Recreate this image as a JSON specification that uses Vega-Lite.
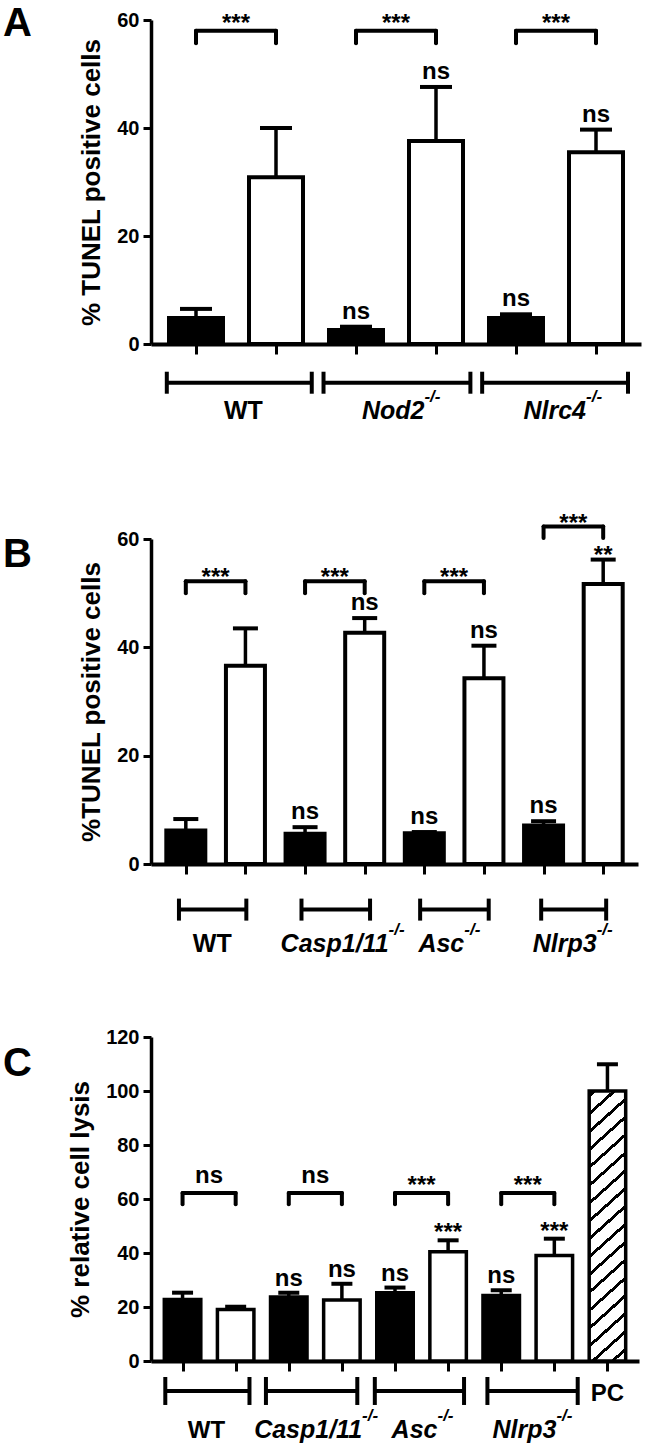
{
  "$schema": "https://vega.github.io/schema/vega-lite/v6.json",
  "autosize": {"type": "pad"},
  "padding": {"left": 3, "top": 4, "right": 4, "bottom": 2},
  "background": "white",
  "config": {
    "view": {"stroke": null},
    "font": "Liberation Sans",
    "axis": {"domainColor": "black", "tickColor": "black", "labelColor": "black", "titleColor": "black", "labelFont": "Liberation Sans", "titleFont": "Liberation Sans", "labelFontWeight": "bold", "titleFontWeight": "bold", "labelFontSize": 20, "titleFontSize": 26, "grid": false, "tickWidth": 3},
    "text": {"font": "Liberation Sans", "fontWeight": "bold", "color": "black"},
    "rule": {"color": "black"},
    "tick": {"color": "black", "opacity": 1}
  },
  "datasets": {
    "barsA": [
      {"pos": 1, "geno": "WT", "treat": "ctrl", "mean": 4.8, "err": 6.5, "sig": ""},
      {"pos": 2, "geno": "WT", "treat": "inf", "mean": 30.9, "err": 40.0, "sig": ""},
      {"pos": 3, "geno": "Nod2", "treat": "ctrl", "mean": 2.6, "err": 3.2, "sig": "ns"},
      {"pos": 4, "geno": "Nod2", "treat": "inf", "mean": 37.6, "err": 47.6, "sig": "ns"},
      {"pos": 5, "geno": "Nlrc4", "treat": "ctrl", "mean": 4.8, "err": 5.5, "sig": "ns"},
      {"pos": 6, "geno": "Nlrc4", "treat": "inf", "mean": 35.5, "err": 39.7, "sig": "ns"}
    ],
    "pairsA": [
      {"x1": 1, "x2": 2, "xm": 1.5, "y": 58, "ylow": 55.7, "label": "***"},
      {"x1": 3, "x2": 4, "xm": 3.5, "y": 58, "ylow": 55.7, "label": "***"},
      {"x1": 5, "x2": 6, "xm": 5.5, "y": 58, "ylow": 55.7, "label": "***"}
    ],
    "groupsA": [
      {"x1": 0.635, "x2": 2.447, "lx": 1.835, "label": "WT", "sup": ""},
      {"x1": 2.594, "x2": 4.43, "lx": 3.855, "label": "Nod2", "sup": "-/-"},
      {"x1": 4.577, "x2": 6.4, "lx": 5.875, "label": "Nlrc4", "sup": "-/-"}
    ],
    "barsB": [
      {"pos": 1, "geno": "WT", "treat": "ctrl", "mean": 6.2, "err": 8.3, "sig": ""},
      {"pos": 2, "geno": "WT", "treat": "inf", "mean": 36.6, "err": 43.5, "sig": ""},
      {"pos": 3, "geno": "Casp1/11", "treat": "ctrl", "mean": 5.6, "err": 6.8, "sig": "ns"},
      {"pos": 4, "geno": "Casp1/11", "treat": "inf", "mean": 42.7, "err": 45.4, "sig": "ns"},
      {"pos": 5, "geno": "Asc", "treat": "ctrl", "mean": 5.7, "err": 5.9, "sig": "ns"},
      {"pos": 6, "geno": "Asc", "treat": "inf", "mean": 34.3, "err": 40.3, "sig": "ns"},
      {"pos": 7, "geno": "Nlrp3", "treat": "ctrl", "mean": 7.1, "err": 7.9, "sig": "ns"},
      {"pos": 8, "geno": "Nlrp3", "treat": "inf", "mean": 51.7, "err": 56.2, "sig": "**"}
    ],
    "pairsB": [
      {"x1": 1, "x2": 2, "xm": 1.5, "y": 52.2, "ylow": 50.0, "label": "***"},
      {"x1": 3, "x2": 4, "xm": 3.5, "y": 52.2, "ylow": 50.0, "label": "***"},
      {"x1": 5, "x2": 6, "xm": 5.5, "y": 52.2, "ylow": 50.0, "label": "***"},
      {"x1": 7, "x2": 8, "xm": 7.5, "y": 62.3, "ylow": 60.2, "label": "***"}
    ],
    "groupsB": [
      {"x1": 0.885, "x2": 2.015, "lx": 1.77, "label": "WT", "sup": ""},
      {"x1": 2.94, "x2": 4.09, "lx": 4.4, "label": "Casp1/11", "sup": "-/-"},
      {"x1": 4.93, "x2": 6.08, "lx": 5.67, "label": "Asc", "sup": "-/-"},
      {"x1": 6.96, "x2": 8.05, "lx": 7.89, "label": "Nlrp3", "sup": "-/-"}
    ],
    "barsC": [
      {"pos": 1, "geno": "WT", "treat": "ctrl", "mean": 22.8, "err": 25.3, "sig": ""},
      {"pos": 2, "geno": "WT", "treat": "inf", "mean": 19.1, "err": 20.1, "sig": ""},
      {"pos": 3, "geno": "Casp1/11", "treat": "ctrl", "mean": 23.7, "err": 25.3, "sig": "ns"},
      {"pos": 4, "geno": "Casp1/11", "treat": "inf", "mean": 22.6, "err": 28.6, "sig": "ns"},
      {"pos": 5, "geno": "Asc", "treat": "ctrl", "mean": 25.3, "err": 27.2, "sig": "ns"},
      {"pos": 6, "geno": "Asc", "treat": "inf", "mean": 40.5, "err": 44.7, "sig": "***"},
      {"pos": 7, "geno": "Nlrp3", "treat": "ctrl", "mean": 24.3, "err": 26.2, "sig": "ns"},
      {"pos": 8, "geno": "Nlrp3", "treat": "inf", "mean": 39.1, "err": 45.3, "sig": "***"},
      {"pos": 9, "geno": "PC", "treat": "pc", "mean": 100, "err": 109.9, "sig": ""}
    ],
    "pairsC": [
      {"x1": 1, "x2": 2, "xm": 1.5, "y": 62.2, "ylow": 58.1, "label": "ns"},
      {"x1": 3, "x2": 4, "xm": 3.5, "y": 62.2, "ylow": 58.1, "label": "ns"},
      {"x1": 5, "x2": 6, "xm": 5.5, "y": 62.2, "ylow": 58.1, "label": "***"},
      {"x1": 7, "x2": 8, "xm": 7.5, "y": 62.2, "ylow": 58.1, "label": "***"}
    ],
    "groupsC": [
      {"x1": 0.675, "x2": 2.26, "lx": 1.8, "label": "WT", "sup": ""},
      {"x1": 2.57, "x2": 4.29, "lx": 4.38, "label": "Casp1/11", "sup": "-/-"},
      {"x1": 4.62, "x2": 6.3, "lx": 5.8, "label": "Asc", "sup": "-/-"},
      {"x1": 6.74, "x2": 8.44, "lx": 8.04, "label": "Nlrp3", "sup": "-/-"}
    ],
    "pcC": [
      {"lx": 9, "label": "PC"}
    ]
  },
  "bounds": "flush",
  "spacing": 195,
  "vconcat": [
    {
      "width": 490,
      "height": 324,
      "title": {"text": "A", "anchor": "start", "frame": "group", "orient": "top", "offset": 0, "dx": -148, "dy": 66, "fontSize": 40, "fontWeight": "bold", "font": "Liberation Sans", "baseline": "alphabetic", "color": "black"},
      "layer": [
        {"data": {"name": "barsA"}, "mark": {"type": "bar", "orient": "vertical", "size": 54, "stroke": "black", "strokeWidth": 4},
         "encoding": {
           "x": {"field": "pos", "type": "quantitative", "scale": {"domain": [0.5, 6.5], "nice": false, "zero": false}, "axis": {"values": [1, 2, 3, 4, 5, 6], "labels": false, "ticks": true, "tickSize": 10, "tickWidth": 3, "domainWidth": 4, "title": null}},
           "y": {"field": "mean", "type": "quantitative", "scale": {"domain": [0, 60], "nice": false}, "axis": {"values": [0, 20, 40, 60], "title": "% TUNEL positive cells", "tickSize": 8, "tickWidth": 3, "domainWidth": 3.5, "labelPadding": 4, "titlePadding": 12}},
           "fill": {"field": "treat", "type": "nominal", "scale": {"domain": ["ctrl", "inf"], "range": ["black", "white"]}, "legend": null}}},
        {"data": {"name": "barsA"}, "mark": {"type": "rule", "strokeWidth": 3.5},
         "encoding": {"x": {"field": "pos", "type": "quantitative", "scale": {"domain": [0.5, 6.5], "nice": false, "zero": false}}, "y": {"field": "mean", "type": "quantitative", "scale": {"domain": [0, 60], "nice": false}}, "y2": {"field": "err"}}},
        {"data": {"name": "barsA"}, "mark": {"type": "tick", "orient": "horizontal", "size": 32, "thickness": 4, "opacity": 1},
         "encoding": {"x": {"field": "pos", "type": "quantitative", "scale": {"domain": [0.5, 6.5], "nice": false, "zero": false}}, "y": {"field": "err", "type": "quantitative", "scale": {"domain": [0, 60], "nice": false}}}},
        {"data": {"name": "barsA"}, "transform": [{"filter": "datum.sig === 'ns'"}], "mark": {"type": "text", "fontSize": 24, "baseline": "alphabetic", "dy": -8},
         "encoding": {"x": {"field": "pos", "type": "quantitative", "scale": {"domain": [0.5, 6.5], "nice": false, "zero": false}}, "y": {"field": "err", "type": "quantitative", "scale": {"domain": [0, 60], "nice": false}}, "text": {"field": "sig"}}},
        {"data": {"name": "pairsA"}, "mark": {"type": "rule", "strokeWidth": 4, "strokeCap": "round"},
         "encoding": {"x": {"field": "x1", "type": "quantitative", "scale": {"domain": [0.5, 6.5], "nice": false, "zero": false}}, "x2": {"field": "x2"}, "y": {"field": "y", "type": "quantitative", "scale": {"domain": [0, 60], "nice": false}}}},
        {"data": {"name": "pairsA"}, "transform": [{"fold": ["x1", "x2"], "as": ["side", "xv"]}], "mark": {"type": "rule", "strokeWidth": 4, "strokeCap": "round"},
         "encoding": {"x": {"field": "xv", "type": "quantitative", "scale": {"domain": [0.5, 6.5], "nice": false, "zero": false}}, "y": {"field": "ylow", "type": "quantitative", "scale": {"domain": [0, 60], "nice": false}}, "y2": {"field": "y"}}},
        {"data": {"name": "pairsA"}, "mark": {"type": "text", "fontSize": 24, "baseline": "alphabetic", "dy": 0},
         "encoding": {"x": {"field": "xm", "type": "quantitative", "scale": {"domain": [0.5, 6.5], "nice": false, "zero": false}}, "y": {"field": "y", "type": "quantitative", "scale": {"domain": [0, 60], "nice": false}}, "text": {"field": "label"}}},
        {"data": {"name": "groupsA"}, "mark": {"type": "rule", "strokeWidth": 4},
         "encoding": {"x": {"field": "x1", "type": "quantitative", "scale": {"domain": [0.5, 6.5], "nice": false, "zero": false}}, "x2": {"field": "x2"}, "y": {"datum": -7.17, "type": "quantitative", "scale": {"domain": [0, 60], "nice": false}}}},
        {"data": {"name": "groupsA"}, "transform": [{"fold": ["x1", "x2"], "as": ["side", "xv"]}], "mark": {"type": "tick", "orient": "vertical", "size": 22, "thickness": 4, "opacity": 1},
         "encoding": {"x": {"field": "xv", "type": "quantitative", "scale": {"domain": [0.5, 6.5], "nice": false, "zero": false}}, "y": {"datum": -7.17, "type": "quantitative", "scale": {"domain": [0, 60], "nice": false}}}},
        {"data": {"name": "groupsA"}, "transform": [{"filter": "datum.sup === ''"}], "mark": {"type": "text", "fontSize": 25, "align": "right", "baseline": "alphabetic"},
         "encoding": {"x": {"field": "lx", "type": "quantitative", "scale": {"domain": [0.5, 6.5], "nice": false, "zero": false}}, "y": {"datum": -13.94, "type": "quantitative", "scale": {"domain": [0, 60], "nice": false}}, "text": {"field": "label"}}},
        {"data": {"name": "groupsA"}, "transform": [{"filter": "datum.sup !== ''"}], "mark": {"type": "text", "fontSize": 25, "fontStyle": "italic", "align": "right", "baseline": "alphabetic"},
         "encoding": {"x": {"field": "lx", "type": "quantitative", "scale": {"domain": [0.5, 6.5], "nice": false, "zero": false}}, "y": {"datum": -13.94, "type": "quantitative", "scale": {"domain": [0, 60], "nice": false}}, "text": {"field": "label"}}},
        {"data": {"name": "groupsA"}, "transform": [{"filter": "datum.sup !== ''"}], "mark": {"type": "text", "fontSize": 17, "fontStyle": "italic", "align": "left", "baseline": "alphabetic", "dy": -17},
         "encoding": {"x": {"field": "lx", "type": "quantitative", "scale": {"domain": [0.5, 6.5], "nice": false, "zero": false}}, "y": {"datum": -13.94, "type": "quantitative", "scale": {"domain": [0, 60], "nice": false}}, "text": {"field": "sup"}}}
      ]
    },
    {
      "bounds": "flush",
      "spacing": 173,
      "vconcat": [
        {
          "width": 487,
          "height": 325,
          "title": {"text": "B", "anchor": "start", "frame": "group", "orient": "top", "offset": 0, "dx": -148, "dy": 95, "fontSize": 40, "fontWeight": "bold", "font": "Liberation Sans", "baseline": "alphabetic", "color": "black"},
          "layer": [
            {"data": {"name": "barsB"}, "mark": {"type": "bar", "orient": "vertical", "size": 39, "stroke": "black", "strokeWidth": 4},
             "encoding": {
               "x": {"field": "pos", "type": "quantitative", "scale": {"domain": [0.5, 8.5], "nice": false, "zero": false}, "axis": {"values": [1, 2, 3, 4, 5, 6, 7, 8], "labels": false, "ticks": true, "tickSize": 10, "tickWidth": 3, "domainWidth": 4, "title": null}},
               "y": {"field": "mean", "type": "quantitative", "scale": {"domain": [0, 60], "nice": false}, "axis": {"values": [0, 20, 40, 60], "title": "%TUNEL positive cells", "tickSize": 8, "tickWidth": 3, "domainWidth": 3.5, "labelPadding": 4, "titlePadding": 12}},
               "fill": {"field": "treat", "type": "nominal", "scale": {"domain": ["ctrl", "inf"], "range": ["black", "white"]}, "legend": null}}},
            {"data": {"name": "barsB"}, "mark": {"type": "rule", "strokeWidth": 3.5},
             "encoding": {"x": {"field": "pos", "type": "quantitative", "scale": {"domain": [0.5, 8.5], "nice": false, "zero": false}}, "y": {"field": "mean", "type": "quantitative", "scale": {"domain": [0, 60], "nice": false}}, "y2": {"field": "err"}}},
            {"data": {"name": "barsB"}, "mark": {"type": "tick", "orient": "horizontal", "size": 25, "thickness": 4, "opacity": 1},
             "encoding": {"x": {"field": "pos", "type": "quantitative", "scale": {"domain": [0.5, 8.5], "nice": false, "zero": false}}, "y": {"field": "err", "type": "quantitative", "scale": {"domain": [0, 60], "nice": false}}}},
            {"data": {"name": "barsB"}, "transform": [{"filter": "datum.sig === 'ns'"}], "mark": {"type": "text", "fontSize": 24, "baseline": "alphabetic", "dy": -8},
             "encoding": {"x": {"field": "pos", "type": "quantitative", "scale": {"domain": [0.5, 8.5], "nice": false, "zero": false}}, "y": {"field": "err", "type": "quantitative", "scale": {"domain": [0, 60], "nice": false}}, "text": {"field": "sig"}}},
            {"data": {"name": "barsB"}, "transform": [{"filter": "datum.sig !== 'ns' && datum.sig !== ''"}], "mark": {"type": "text", "fontSize": 24, "baseline": "alphabetic", "dy": 3},
             "encoding": {"x": {"field": "pos", "type": "quantitative", "scale": {"domain": [0.5, 8.5], "nice": false, "zero": false}}, "y": {"field": "err", "type": "quantitative", "scale": {"domain": [0, 60], "nice": false}}, "text": {"field": "sig"}}},
            {"data": {"name": "pairsB"}, "mark": {"type": "rule", "strokeWidth": 4, "strokeCap": "round"},
             "encoding": {"x": {"field": "x1", "type": "quantitative", "scale": {"domain": [0.5, 8.5], "nice": false, "zero": false}}, "x2": {"field": "x2"}, "y": {"field": "y", "type": "quantitative", "scale": {"domain": [0, 60], "nice": false}}}},
            {"data": {"name": "pairsB"}, "transform": [{"fold": ["x1", "x2"], "as": ["side", "xv"]}], "mark": {"type": "rule", "strokeWidth": 4, "strokeCap": "round"},
             "encoding": {"x": {"field": "xv", "type": "quantitative", "scale": {"domain": [0.5, 8.5], "nice": false, "zero": false}}, "y": {"field": "ylow", "type": "quantitative", "scale": {"domain": [0, 60], "nice": false}}, "y2": {"field": "y"}}},
            {"data": {"name": "pairsB"}, "mark": {"type": "text", "fontSize": 24, "baseline": "alphabetic", "dy": 4},
             "encoding": {"x": {"field": "xm", "type": "quantitative", "scale": {"domain": [0.5, 8.5], "nice": false, "zero": false}}, "y": {"field": "y", "type": "quantitative", "scale": {"domain": [0, 60], "nice": false}}, "text": {"field": "label"}}},
            {"data": {"name": "groupsB"}, "mark": {"type": "rule", "strokeWidth": 4},
             "encoding": {"x": {"field": "x1", "type": "quantitative", "scale": {"domain": [0.5, 8.5], "nice": false, "zero": false}}, "x2": {"field": "x2"}, "y": {"datum": -8.42, "type": "quantitative", "scale": {"domain": [0, 60], "nice": false}}}},
            {"data": {"name": "groupsB"}, "transform": [{"fold": ["x1", "x2"], "as": ["side", "xv"]}], "mark": {"type": "tick", "orient": "vertical", "size": 22, "thickness": 4, "opacity": 1},
             "encoding": {"x": {"field": "xv", "type": "quantitative", "scale": {"domain": [0.5, 8.5], "nice": false, "zero": false}}, "y": {"datum": -8.42, "type": "quantitative", "scale": {"domain": [0, 60], "nice": false}}}},
            {"data": {"name": "groupsB"}, "transform": [{"filter": "datum.sup === ''"}], "mark": {"type": "text", "fontSize": 25, "align": "right", "baseline": "alphabetic"},
             "encoding": {"x": {"field": "lx", "type": "quantitative", "scale": {"domain": [0.5, 8.5], "nice": false, "zero": false}}, "y": {"datum": -16.3, "type": "quantitative", "scale": {"domain": [0, 60], "nice": false}}, "text": {"field": "label"}}},
            {"data": {"name": "groupsB"}, "transform": [{"filter": "datum.sup !== ''"}], "mark": {"type": "text", "fontSize": 25, "fontStyle": "italic", "align": "right", "baseline": "alphabetic"},
             "encoding": {"x": {"field": "lx", "type": "quantitative", "scale": {"domain": [0.5, 8.5], "nice": false, "zero": false}}, "y": {"datum": -16.3, "type": "quantitative", "scale": {"domain": [0, 60], "nice": false}}, "text": {"field": "label"}}},
            {"data": {"name": "groupsB"}, "transform": [{"filter": "datum.sup !== ''"}], "mark": {"type": "text", "fontSize": 17, "fontStyle": "italic", "align": "left", "baseline": "alphabetic", "dy": -17},
             "encoding": {"x": {"field": "lx", "type": "quantitative", "scale": {"domain": [0.5, 8.5], "nice": false, "zero": false}}, "y": {"datum": -16.3, "type": "quantitative", "scale": {"domain": [0, 60], "nice": false}}, "text": {"field": "sup"}}}
          ]
        },
        {
          "width": 488,
          "height": 324,
          "title": {"text": "C", "anchor": "start", "frame": "group", "orient": "top", "offset": 0, "dx": -148, "dy": 89, "fontSize": 40, "fontWeight": "bold", "font": "Liberation Sans", "baseline": "alphabetic", "color": "black"},
          "layer": [
            {"data": {"name": "barsC"}, "transform": [{"filter": "datum.treat !== 'pc'"}], "mark": {"type": "bar", "orient": "vertical", "size": 36.5, "stroke": "black", "strokeWidth": 3.5},
             "encoding": {
               "x": {"field": "pos", "type": "quantitative", "scale": {"domain": [0.5, 9.5], "nice": false, "zero": false}, "axis": {"values": [1, 2, 3, 4, 5, 6, 7, 8, 9], "labels": false, "ticks": true, "tickSize": 10, "tickWidth": 3, "domainWidth": 4, "title": null}},
               "y": {"field": "mean", "type": "quantitative", "scale": {"domain": [0, 120], "nice": false}, "axis": {"values": [0, 20, 40, 60, 80, 100, 120], "title": "% relative cell lysis", "tickSize": 8, "tickWidth": 3, "domainWidth": 3.5, "labelPadding": 4, "titlePadding": 12}},
               "fill": {"field": "treat", "type": "nominal", "scale": {"domain": ["ctrl", "inf"], "range": ["black", "white"]}, "legend": null}}},
            {"data": {"name": "barsC"}, "transform": [{"filter": "datum.treat === 'pc'"}],
             "mark": {"type": "bar", "orient": "vertical", "size": 36.5, "stroke": "black", "strokeWidth": 3.5,
               "fill": {"gradient": "linear", "x1": 0, "y1": 0, "x2": 0.134, "y2": 1.1, "stops": [
                 {"offset": 0, "color": "white"},
                 {"offset": 0.010, "color": "white"}, {"offset": 0.010, "color": "black"}, {"offset": 0.023, "color": "black"}, {"offset": 0.023, "color": "white"},
                 {"offset": 0.069, "color": "white"}, {"offset": 0.069, "color": "black"}, {"offset": 0.082, "color": "black"}, {"offset": 0.082, "color": "white"},
                 {"offset": 0.129, "color": "white"}, {"offset": 0.129, "color": "black"}, {"offset": 0.142, "color": "black"}, {"offset": 0.142, "color": "white"},
                 {"offset": 0.188, "color": "white"}, {"offset": 0.188, "color": "black"}, {"offset": 0.201, "color": "black"}, {"offset": 0.201, "color": "white"},
                 {"offset": 0.247, "color": "white"}, {"offset": 0.247, "color": "black"}, {"offset": 0.260, "color": "black"}, {"offset": 0.260, "color": "white"},
                 {"offset": 0.307, "color": "white"}, {"offset": 0.307, "color": "black"}, {"offset": 0.320, "color": "black"}, {"offset": 0.320, "color": "white"},
                 {"offset": 0.366, "color": "white"}, {"offset": 0.366, "color": "black"}, {"offset": 0.379, "color": "black"}, {"offset": 0.379, "color": "white"},
                 {"offset": 0.425, "color": "white"}, {"offset": 0.425, "color": "black"}, {"offset": 0.438, "color": "black"}, {"offset": 0.438, "color": "white"},
                 {"offset": 0.484, "color": "white"}, {"offset": 0.484, "color": "black"}, {"offset": 0.497, "color": "black"}, {"offset": 0.497, "color": "white"},
                 {"offset": 0.544, "color": "white"}, {"offset": 0.544, "color": "black"}, {"offset": 0.557, "color": "black"}, {"offset": 0.557, "color": "white"},
                 {"offset": 0.603, "color": "white"}, {"offset": 0.603, "color": "black"}, {"offset": 0.616, "color": "black"}, {"offset": 0.616, "color": "white"},
                 {"offset": 0.662, "color": "white"}, {"offset": 0.662, "color": "black"}, {"offset": 0.675, "color": "black"}, {"offset": 0.675, "color": "white"},
                 {"offset": 0.722, "color": "white"}, {"offset": 0.722, "color": "black"}, {"offset": 0.735, "color": "black"}, {"offset": 0.735, "color": "white"},
                 {"offset": 0.781, "color": "white"}, {"offset": 0.781, "color": "black"}, {"offset": 0.794, "color": "black"}, {"offset": 0.794, "color": "white"},
                 {"offset": 0.840, "color": "white"}, {"offset": 0.840, "color": "black"}, {"offset": 0.853, "color": "black"}, {"offset": 0.853, "color": "white"},
                 {"offset": 0.900, "color": "white"}, {"offset": 0.900, "color": "black"}, {"offset": 0.913, "color": "black"}, {"offset": 0.913, "color": "white"},
                 {"offset": 0.959, "color": "white"}, {"offset": 0.959, "color": "black"}, {"offset": 0.972, "color": "black"}, {"offset": 0.972, "color": "white"},
                 {"offset": 1, "color": "white"}
               ]}},
             "encoding": {"x": {"field": "pos", "type": "quantitative", "scale": {"domain": [0.5, 9.5], "nice": false, "zero": false}}, "y": {"field": "mean", "type": "quantitative", "scale": {"domain": [0, 120], "nice": false}}}},
            {"data": {"name": "barsC"}, "mark": {"type": "rule", "strokeWidth": 3.5},
             "encoding": {"x": {"field": "pos", "type": "quantitative", "scale": {"domain": [0.5, 9.5], "nice": false, "zero": false}}, "y": {"field": "mean", "type": "quantitative", "scale": {"domain": [0, 120], "nice": false}}, "y2": {"field": "err"}}},
            {"data": {"name": "barsC"}, "mark": {"type": "tick", "orient": "horizontal", "size": 21, "thickness": 4, "opacity": 1},
             "encoding": {"x": {"field": "pos", "type": "quantitative", "scale": {"domain": [0.5, 9.5], "nice": false, "zero": false}}, "y": {"field": "err", "type": "quantitative", "scale": {"domain": [0, 120], "nice": false}}}},
            {"data": {"name": "barsC"}, "transform": [{"filter": "datum.sig === 'ns'"}], "mark": {"type": "text", "fontSize": 24, "baseline": "alphabetic", "dy": -7},
             "encoding": {"x": {"field": "pos", "type": "quantitative", "scale": {"domain": [0.5, 9.5], "nice": false, "zero": false}}, "y": {"field": "err", "type": "quantitative", "scale": {"domain": [0, 120], "nice": false}}, "text": {"field": "sig"}}},
            {"data": {"name": "barsC"}, "transform": [{"filter": "datum.sig !== 'ns' && datum.sig !== ''"}], "mark": {"type": "text", "fontSize": 24, "baseline": "alphabetic", "dy": 0},
             "encoding": {"x": {"field": "pos", "type": "quantitative", "scale": {"domain": [0.5, 9.5], "nice": false, "zero": false}}, "y": {"field": "err", "type": "quantitative", "scale": {"domain": [0, 120], "nice": false}}, "text": {"field": "sig"}}},
            {"data": {"name": "pairsC"}, "mark": {"type": "rule", "strokeWidth": 4, "strokeCap": "round"},
             "encoding": {"x": {"field": "x1", "type": "quantitative", "scale": {"domain": [0.5, 9.5], "nice": false, "zero": false}}, "x2": {"field": "x2"}, "y": {"field": "y", "type": "quantitative", "scale": {"domain": [0, 120], "nice": false}}}},
            {"data": {"name": "pairsC"}, "transform": [{"fold": ["x1", "x2"], "as": ["side", "xv"]}], "mark": {"type": "rule", "strokeWidth": 4, "strokeCap": "round"},
             "encoding": {"x": {"field": "xv", "type": "quantitative", "scale": {"domain": [0.5, 9.5], "nice": false, "zero": false}}, "y": {"field": "ylow", "type": "quantitative", "scale": {"domain": [0, 120], "nice": false}}, "y2": {"field": "y"}}},
            {"data": {"name": "pairsC"}, "transform": [{"filter": "datum.label === 'ns'"}], "mark": {"type": "text", "fontSize": 24, "baseline": "alphabetic", "dy": -10},
             "encoding": {"x": {"field": "xm", "type": "quantitative", "scale": {"domain": [0.5, 9.5], "nice": false, "zero": false}}, "y": {"field": "y", "type": "quantitative", "scale": {"domain": [0, 120], "nice": false}}, "text": {"field": "label"}}},
            {"data": {"name": "pairsC"}, "transform": [{"filter": "datum.label !== 'ns'"}], "mark": {"type": "text", "fontSize": 24, "baseline": "alphabetic", "dy": 0},
             "encoding": {"x": {"field": "xm", "type": "quantitative", "scale": {"domain": [0.5, 9.5], "nice": false, "zero": false}}, "y": {"field": "y", "type": "quantitative", "scale": {"domain": [0, 120], "nice": false}}, "text": {"field": "label"}}},
            {"data": {"name": "groupsC"}, "mark": {"type": "rule", "strokeWidth": 4},
             "encoding": {"x": {"field": "x1", "type": "quantitative", "scale": {"domain": [0.5, 9.5], "nice": false, "zero": false}}, "x2": {"field": "x2"}, "y": {"datum": -11.1, "type": "quantitative", "scale": {"domain": [0, 120], "nice": false}}}},
            {"data": {"name": "groupsC"}, "transform": [{"fold": ["x1", "x2"], "as": ["side", "xv"]}], "mark": {"type": "tick", "orient": "vertical", "size": 28, "thickness": 4, "opacity": 1},
             "encoding": {"x": {"field": "xv", "type": "quantitative", "scale": {"domain": [0.5, 9.5], "nice": false, "zero": false}}, "y": {"datum": -11.1, "type": "quantitative", "scale": {"domain": [0, 120], "nice": false}}}},
            {"data": {"name": "pcC"}, "mark": {"type": "text", "fontSize": 24, "align": "center", "baseline": "alphabetic"},
             "encoding": {"x": {"field": "lx", "type": "quantitative", "scale": {"domain": [0.5, 9.5], "nice": false, "zero": false}}, "y": {"datum": -14.8, "type": "quantitative", "scale": {"domain": [0, 120], "nice": false}}, "text": {"field": "label"}}},
            {"data": {"name": "groupsC"}, "transform": [{"filter": "datum.sup === ''"}], "mark": {"type": "text", "fontSize": 24, "align": "right", "baseline": "alphabetic"},
             "encoding": {"x": {"field": "lx", "type": "quantitative", "scale": {"domain": [0.5, 9.5], "nice": false, "zero": false}}, "y": {"datum": -28.5, "type": "quantitative", "scale": {"domain": [0, 120], "nice": false}}, "text": {"field": "label"}}},
            {"data": {"name": "groupsC"}, "transform": [{"filter": "datum.sup !== ''"}], "mark": {"type": "text", "fontSize": 25, "fontStyle": "italic", "align": "right", "baseline": "alphabetic"},
             "encoding": {"x": {"field": "lx", "type": "quantitative", "scale": {"domain": [0.5, 9.5], "nice": false, "zero": false}}, "y": {"datum": -28.5, "type": "quantitative", "scale": {"domain": [0, 120], "nice": false}}, "text": {"field": "label"}}},
            {"data": {"name": "groupsC"}, "transform": [{"filter": "datum.sup !== ''"}], "mark": {"type": "text", "fontSize": 17, "fontStyle": "italic", "align": "left", "baseline": "alphabetic", "dy": -17},
             "encoding": {"x": {"field": "lx", "type": "quantitative", "scale": {"domain": [0.5, 9.5], "nice": false, "zero": false}}, "y": {"datum": -28.5, "type": "quantitative", "scale": {"domain": [0, 120], "nice": false}}, "text": {"field": "sup"}}}
          ]
        }
      ]
    }
  ]
}
